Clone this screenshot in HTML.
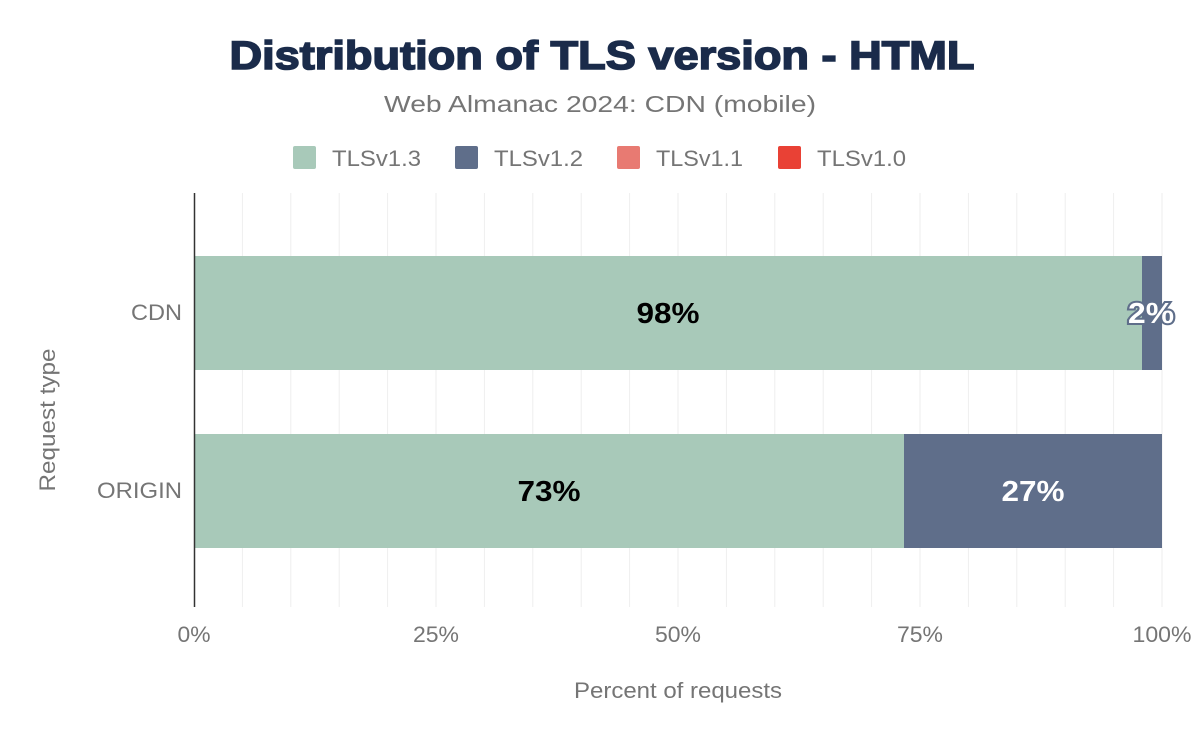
<!DOCTYPE html>
<html><head><style>
body{margin:0;background:#fff;font-family:"Liberation Sans",sans-serif;}
</style></head><body>
<svg width="1200" height="742" xmlns="http://www.w3.org/2000/svg" font-family="Liberation Sans, sans-serif">
<rect width="1200" height="742" fill="#fff"/>
<text x="602" y="69" text-anchor="middle" font-size="40" font-weight="900" fill="#1a2b4a" stroke="#1a2b4a" stroke-width="1.6" textLength="745" lengthAdjust="spacingAndGlyphs">Distribution of TLS version - HTML</text>
<text x="600" y="112" text-anchor="middle" font-size="23" fill="#757575" textLength="432" lengthAdjust="spacingAndGlyphs">Web Almanac 2024: CDN (mobile)</text>
<g font-size="22" fill="#757575">
<rect x="293" y="146" width="23" height="23" rx="2" fill="#a8c9b9"/><text x="332" y="166" textLength="89" lengthAdjust="spacingAndGlyphs">TLSv1.3</text>
<rect x="455" y="146" width="23" height="23" rx="2" fill="#5f6e8a"/><text x="494" y="166" textLength="89" lengthAdjust="spacingAndGlyphs">TLSv1.2</text>
<rect x="617" y="146" width="23" height="23" rx="2" fill="#e87a72"/><text x="656" y="166" textLength="87" lengthAdjust="spacingAndGlyphs">TLSv1.1</text>
<rect x="778" y="146" width="23" height="23" rx="2" fill="#e94135"/><text x="817" y="166" textLength="89" lengthAdjust="spacingAndGlyphs">TLSv1.0</text>
</g>
<g stroke="#eeeeee" stroke-width="1">
<line x1="242.4" y1="193" x2="242.4" y2="607"/><line x1="290.8" y1="193" x2="290.8" y2="607"/><line x1="339.2" y1="193" x2="339.2" y2="607"/><line x1="387.6" y1="193" x2="387.6" y2="607"/><line x1="436" y1="193" x2="436" y2="607"/><line x1="484.4" y1="193" x2="484.4" y2="607"/><line x1="532.8" y1="193" x2="532.8" y2="607"/><line x1="581.2" y1="193" x2="581.2" y2="607"/><line x1="629.6" y1="193" x2="629.6" y2="607"/><line x1="678" y1="193" x2="678" y2="607"/><line x1="726.4" y1="193" x2="726.4" y2="607"/><line x1="774.8" y1="193" x2="774.8" y2="607"/><line x1="823.2" y1="193" x2="823.2" y2="607"/><line x1="871.6" y1="193" x2="871.6" y2="607"/><line x1="920" y1="193" x2="920" y2="607"/><line x1="968.4" y1="193" x2="968.4" y2="607"/><line x1="1016.8" y1="193" x2="1016.8" y2="607"/><line x1="1065.2" y1="193" x2="1065.2" y2="607"/><line x1="1113.6" y1="193" x2="1113.6" y2="607"/><line x1="1162" y1="193" x2="1162" y2="607"/>
</g>
<rect x="194" y="256" width="948" height="114" fill="#a8c9b9"/>
<rect x="1142" y="256" width="20" height="114" fill="#5f6e8a"/>
<rect x="194" y="434" width="710" height="114" fill="#a8c9b9"/>
<rect x="904" y="434" width="258" height="114" fill="#5f6e8a"/>
<line x1="194.5" y1="193" x2="194.5" y2="607" stroke="#333" stroke-width="1.5"/>
<g font-size="29" font-weight="bold" text-anchor="middle">
<text x="668" y="323" fill="#000" textLength="63" lengthAdjust="spacingAndGlyphs">98%</text>
<text x="1151" y="323" fill="#fff" stroke="#5f6e8a" stroke-width="4" paint-order="stroke" textLength="46" lengthAdjust="spacingAndGlyphs">2%</text>
<text x="549" y="501" fill="#000" textLength="63" lengthAdjust="spacingAndGlyphs">73%</text>
<text x="1033" y="501" fill="#fff" textLength="63" lengthAdjust="spacingAndGlyphs">27%</text>
</g>
<g font-size="22" fill="#757575">
<text x="182" y="320" text-anchor="end" textLength="51" lengthAdjust="spacingAndGlyphs">CDN</text>
<text x="182" y="498" text-anchor="end" textLength="85" lengthAdjust="spacingAndGlyphs">ORIGIN</text>
<text x="194" y="642" text-anchor="middle" textLength="33" lengthAdjust="spacingAndGlyphs">0%</text>
<text x="436" y="642" text-anchor="middle" textLength="46" lengthAdjust="spacingAndGlyphs">25%</text>
<text x="678" y="642" text-anchor="middle" textLength="46" lengthAdjust="spacingAndGlyphs">50%</text>
<text x="920" y="642" text-anchor="middle" textLength="46" lengthAdjust="spacingAndGlyphs">75%</text>
<text x="1162" y="642" text-anchor="middle" textLength="59" lengthAdjust="spacingAndGlyphs">100%</text>
<text x="678" y="698" text-anchor="middle" textLength="208" lengthAdjust="spacingAndGlyphs">Percent of requests</text>
<text transform="translate(55,420) rotate(-90)" text-anchor="middle" textLength="143" lengthAdjust="spacingAndGlyphs">Request type</text>
</g>
</svg>
</body></html>
